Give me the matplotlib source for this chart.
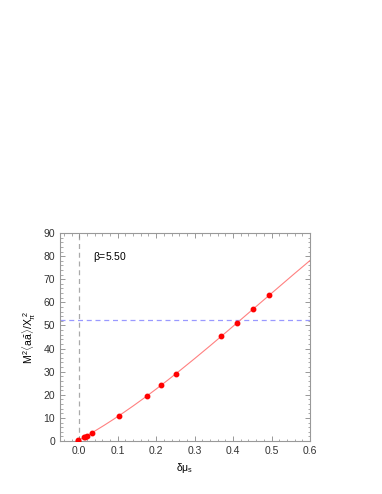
import numpy as np
import matplotlib
matplotlib.use('Agg')
import matplotlib.pyplot as plt
from matplotlib.ticker import MultipleLocator

plt.rcParams['font.family'] = ['Liberation Sans', 'DejaVu Sans']
plt.rcParams['mathtext.fontset'] = 'custom'
plt.rcParams['mathtext.rm'] = 'Liberation Sans'
plt.rcParams['mathtext.it'] = 'Liberation Sans'

# data
dmu = [-0.004, -0.002, 0.012, 0.016, 0.019, 0.032, 0.103, 0.175, 0.213,
       0.251, 0.369, 0.411, 0.452, 0.494]
ratio = [0.1, 0.4, 1.6, 1.9, 2.2, 3.3, 10.7, 19.5, 24.2, 29.1, 45.3, 51.0,
         57.0, 63.2]
target = 52.4
beta_label = r'$\beta$=5.50'

fig = plt.figure(figsize=(3.82, 4.94), dpi=100)
ax = fig.add_axes([0.157, 0.1073, 0.6545, 0.421])

# smooth fit through the points
coef = np.polyfit(dmu, ratio, 3)
xs = np.linspace(-0.005, 0.6, 300)
ax.plot(xs, np.polyval(coef, xs), '-', color='#ff8080', lw=0.8, zorder=2)
ax.plot(dmu, ratio, 'o', color='red', ms=3.2, mec='red', zorder=3)

ax.axhline(target, color='#9999ff', ls=(0, (4, 3)), lw=0.9, zorder=1)
ax.axvline(0.0, color='#aaaaaa', ls=(0, (4, 3)), lw=0.9, zorder=1)

ax.text(0.036, 79.6, beta_label, fontsize=7.5, va='center', ha='left')

ax.set_xlim(-0.05, 0.6)
ax.set_ylim(0, 90)
ax.xaxis.set_major_locator(MultipleLocator(0.1))
ax.xaxis.set_minor_locator(MultipleLocator(0.02))
ax.yaxis.set_major_locator(MultipleLocator(10))
ax.yaxis.set_minor_locator(MultipleLocator(2))
ax.set_xticks([0.0, 0.1, 0.2, 0.3, 0.4, 0.5, 0.6])
ax.set_xticklabels(['0.0', '0.1', '0.2', '0.3', '0.4', '0.5', '0.6'])

ax.tick_params(which='both', direction='in', top=True, right=True,
               color='#888888', labelsize=7.5, labelcolor='#333333')
ax.tick_params(which='major', length=3.5, width=0.6)
ax.tick_params(which='minor', length=1.8, width=0.5)
for s in ax.spines.values():
    s.set_color('#999999')
    s.set_linewidth(0.8)

ax.set_xlabel(r'$\delta\mu_s$', fontsize=7.5)
ax.set_ylabel(r'$M^2\langle a\bar{a}\rangle/X_\pi^{\ 2}$', fontsize=7.5)

fig.savefig('out.png', dpi=100)
